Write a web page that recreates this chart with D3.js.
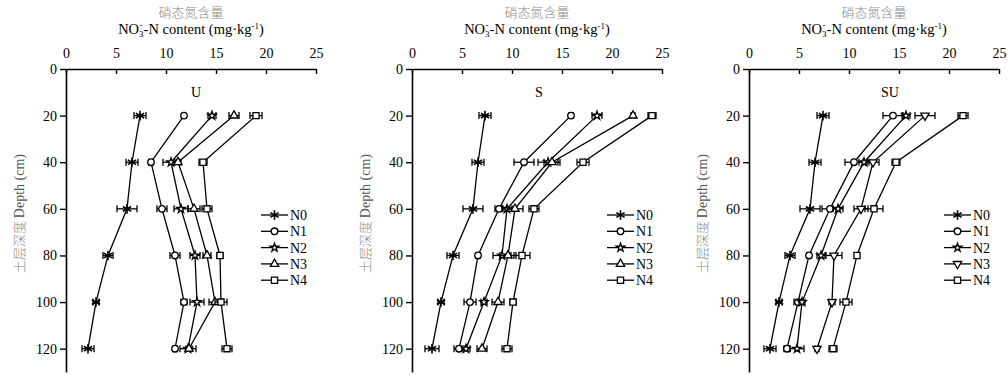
<!DOCTYPE html>
<html>
<head>
<meta charset="utf-8">
<script src="https://cdn.jsdelivr.net/npm/d3@7"></script>
<style>
  body { margin: 0; background: #fff; }
  svg { display: block; }
  text { font-family: "Liberation Serif", "DejaVu Serif", serif; }
  .cn { font-family: "Noto Sans CJK SC", sans-serif; fill: #8a8a8a; font-weight: 300; }
</style>
</head>
<body>
<div class="canvas"></div>
<script>
const depths = [20, 40, 60, 80, 100, 120]
const seriesNames = ['N0', 'N1', 'N2', 'N3', 'N4']
const xTicks = [0, 5, 10, 15, 20, 25]
const yTicks = [0, 20, 40, 60, 80, 100, 120]
const panelNames = ['U', 'S', 'SU']

// values per series, one entry per depth
const uValues = [
  [7.4, 6.6, 6.1, 4.2, 3.0, 2.2],
  [11.8, 8.5, 9.6, 10.9, 11.8, 10.9],
  [14.6, 10.5, 11.5, 12.9, 13.1, 12.2],
  [16.8, 11.2, 12.8, 14.1, 14.9, 12.3],
  [19.0, 13.7, 14.1, 15.4, 15.5, 16.1]
]
const uErrors = [
  [0.6, 0.6, 1.0, 0.5, 0.3, 0.6],
  [0.1, 0.2, 0.5, 0.5, 0.3, 0.2],
  [0.4, 0.8, 0.7, 0.5, 0.7, 0.8],
  [0.5, 0.3, 0.6, 0.4, 0.6, 0.3],
  [0.6, 0.4, 0.5, 0.3, 0.6, 0.5]
]
const sValues = [
  [7.3, 6.6, 6.1, 4.1, 2.9, 2.0],
  [15.9, 11.2, 8.7, 6.6, 5.8, 4.7],
  [18.5, 13.6, 9.5, 9.0, 7.2, 5.4],
  [22.1, 14.0, 10.3, 9.6, 8.6, 7.0],
  [24.0, 17.1, 12.2, 11.0, 10.1, 9.5]
]
const sErrors = [
  [0.6, 0.6, 1.0, 0.6, 0.3, 0.7],
  [0.2, 1.0, 0.4, 0.2, 0.6, 0.5],
  [0.5, 1.0, 0.5, 0.9, 0.3, 0.4],
  [0.2, 0.8, 0.8, 0.8, 0.6, 0.5],
  [0.4, 0.6, 0.5, 0.8, 0.3, 0.5]
]
const suValues = [
  [7.4, 6.6, 6.1, 4.1, 3.0, 2.1],
  [14.4, 10.5, 8.1, 6.0, 4.9, 3.8],
  [15.7, 11.5, 8.9, 7.2, 5.3, 4.8],
  [17.6, 12.4, 11.2, 8.5, 8.3, 6.8],
  [21.4, 14.7, 12.5, 10.8, 9.7, 8.4]
]
const suErrors = [
  [0.6, 0.6, 1.0, 0.5, 0.3, 0.6],
  [1.0, 0.9, 0.8, 0.2, 0.4, 0.3],
  [0.4, 0.5, 0.5, 0.4, 0.3, 0.7],
  [1.0, 0.6, 0.7, 0.8, 0.3, 0.2],
  [0.5, 0.4, 0.9, 0.2, 0.6, 0.4]
]

const W = 1008, H = 376
const panelLeft = [66, 412, 749]
const panelWidth = 250
const plotTop = 69, plotBottom = 372
const labelPos = [13.0, 12.7, 14.1]

const svg = d3.select('.canvas').append('svg')
  .attr('width', W).attr('height', H)

const y = d3.scaleLinear().domain([0, 130]).range([plotTop, plotBottom])

const shapes = [d3.symbolAsterisk, d3.symbolCircle, d3.symbolStar, d3.symbolTriangle, d3.symbolSquare]
const sizes = [64, 34, 22, 30, 38]

const drawMarker = (g, s, panel, cx, cy) => {
  const rot = (panel === 2 && s === 3) ? ' rotate(180)' : ''
  g.append('path')
    .attr('d', d3.symbol().type(shapes[s]).size(sizes[s])())
    .attr('transform', `translate(${cx},${cy})${rot}`)
    .attr('fill', s === 0 ? 'none' : '#fff')
    .attr('stroke', '#000')
    .attr('stroke-width', s === 0 ? 1.6 : 1.3)
}

const allValues = [uValues, sValues, suValues]
const allErrors = [uErrors, sErrors, suErrors]

allValues.forEach((vals, p) => {
  const x0 = panelLeft[p]
  const x = d3.scaleLinear().domain([0, 25]).range([x0, x0 + panelWidth])
  const cx = x(12.5)
  const g = svg.append('g')

  // titles
  g.append('text').attr('class', 'cn').attr('x', cx).attr('y', 17)
    .attr('text-anchor', 'middle').style('font-size', '13px').text('硝态氮含量')
  const t = g.append('text').attr('x', cx).attr('y', 34)
    .attr('text-anchor', 'middle').style('font-size', '14.5px')
  t.append('tspan').text('NO')
  t.append('tspan').attr('dy', 3).style('font-size', '9px').text('3')
  t.append('tspan').attr('dy', -9).attr('dx', -4).style('font-size', '9px').text('-')
  t.append('tspan').attr('dy', 6).attr('dx', 1).text('-N content (mg·kg')
  t.append('tspan').attr('dy', -5).style('font-size', '9px').text('-1')
  t.append('tspan').attr('dy', 5).text(')')

  // x axis (top)
  const xa = g.append('g').attr('transform', `translate(0,${plotTop})`)
    .call(d3.axisTop(x).tickValues(xTicks).tickSize(-5).tickSizeOuter(0).tickPadding(11))
  xa.select('.domain').attr('stroke-width', 1.6)
  xa.selectAll('.tick line').attr('stroke-width', 1.4)
  xa.selectAll('text').style('font-size', '14px').style('font-family', '"Liberation Serif", serif')

  // y axis (left)
  const ya = g.append('g').attr('transform', `translate(${x0},0)`)
    .call(d3.axisLeft(y).tickValues(yTicks).tickSize(6).tickSizeOuter(0).tickPadding(3))
  ya.select('.domain').attr('stroke-width', 1.6)
  ya.selectAll('.tick line').attr('stroke-width', 1.4)
  ya.selectAll('text').style('font-size', '14px').style('font-family', '"Liberation Serif", serif')

  // y label
  const yl = g.append('text')
    .attr('transform', `translate(${x0 - 42},${y(62)}) rotate(-90)`)
    .attr('text-anchor', 'middle').style('font-size', '14px')
  yl.append('tspan').attr('class', 'cn').style('font-size', '13px').text('土层深度  ')
  yl.append('tspan').attr('fill', '#555').text('Depth (cm)')

  // panel label
  g.append('text').attr('x', x(labelPos[p])).attr('y', y(10) + 5)
    .attr('text-anchor', 'middle').style('font-size', '14px').text(panelNames[p])

  const line = d3.line().x(d => x(d[0])).y(d => y(d[1]))

  vals.forEach((sv, s) => {
    const pts = sv.map((v, i) => [v, depths[i]])
    g.append('path').attr('d', line(pts))
      .attr('fill', 'none').attr('stroke', '#000').attr('stroke-width', 1.3)
    sv.forEach((v, i) => {
      const e = allErrors[p][s][i]
      const yy = y(depths[i])
      g.append('line').attr('x1', x(v - e)).attr('x2', x(v + e))
        .attr('y1', yy).attr('y2', yy).attr('stroke', '#000').attr('stroke-width', 1.3)
      ;[v - e, v + e].forEach(c => {
        g.append('line').attr('x1', x(c)).attr('x2', x(c))
          .attr('y1', yy - 3.5).attr('y2', yy + 3.5).attr('stroke', '#000').attr('stroke-width', 1.3)
      })
    })
    sv.forEach((v, i) => drawMarker(g, s, p, x(v), y(depths[i])))
  })

  // legend
  const lx = x0 + 195
  seriesNames.forEach((name, s) => {
    const ly = 215 + s * 16.3
    g.append('line').attr('x1', lx).attr('x2', lx + 27).attr('y1', ly).attr('y2', ly)
      .attr('stroke', '#000').attr('stroke-width', 1.3)
    drawMarker(g, s, p, lx + 13.5, ly)
    g.append('text').attr('x', lx + 29).attr('y', ly + 5)
      .style('font-size', '14px').text(name)
  })
})
</script>
</body>
</html>
